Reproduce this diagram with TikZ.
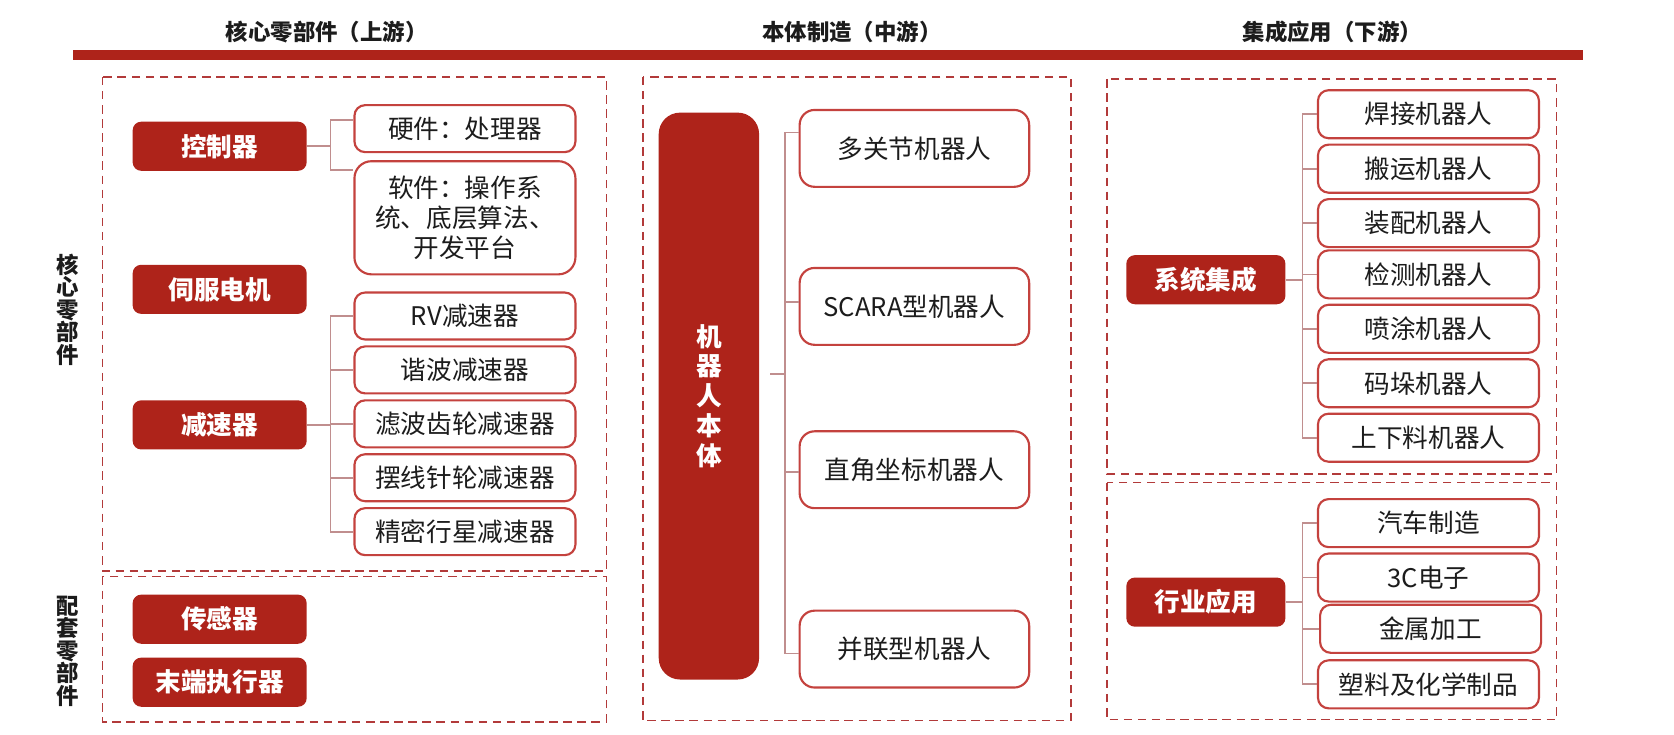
\documentclass[tikz,border=0pt]{standalone}
\usepackage{fontspec}
\setmainfont{Noto Sans CJK SC}
\usetikzlibrary{calc}
\definecolor{dred}{RGB}{174,35,26}
\definecolor{dashred}{RGB}{178,58,58}
\definecolor{boxred}{RGB}{196,66,62}
\definecolor{clcol}{RGB}{192,142,142}
\definecolor{txt}{RGB}{28,28,28}
\begin{document}
\begin{tikzpicture}[x=0.5pt,y=-0.5pt,
  redbox/.style={fill=dred, draw=none, rounded corners=4pt, text=white,
    font=\bfseries\fontsize{12}{14}\selectfont, minimum width=81.5pt,
    minimum height=23pt, inner sep=0pt},
  whitebox/.style={draw=boxred, line width=1pt, fill=white, rounded corners=5pt,
    text=txt, font=\fontsize{12}{14}\selectfont, minimum width=103.5pt,
    minimum height=22pt, inner sep=0pt, align=center},
  midbox/.style={whitebox, rounded corners=7pt, minimum width=107.5pt, minimum height=36pt},
  rbox/.style={whitebox, minimum width=103.5pt, minimum height=22.5pt},
  dbox/.style={draw=dashred, line width=0.8pt, dash pattern=on 4pt off 2.6pt},
  cl/.style={draw=clcol, line width=0.8pt},
  title/.style={font=\bfseries\fontsize{10.5}{12}\selectfont, text=txt, inner sep=0pt},
  vlabel/.style={font=\bfseries\fontsize{10.5}{10.5}\selectfont, text=txt, align=center, inner sep=0pt}
]
\useasboundingbox (0,0) rectangle (1568,688);

% titles and bar
\node[title] (t1) at (306,30) {核心零部件（上游）};
\node[title] (t2) at (798,30) {本体制造（中游）};
\node[title] (t3) at (1248,30) {集成应用（下游）};
\fill[dred] (68,46.5) rectangle (1483,56.5);

% dashed frames
\draw[dbox] (96,72) rectangle (568,535);
\draw[dbox] (96,540) rectangle (568,676);
\draw[dbox] (602,72) rectangle (1003,675);
\draw[dbox] (1037,74) rectangle (1458,444);
\draw[dbox] (1037,452) rectangle (1458,674);

% vertical labels
\node[vlabel] (vl1) at (63,290) {核\\心\\零\\部\\件};
\node[vlabel] (vl2) at (63,610) {配\\套\\零\\部\\件};

% left column
\node[redbox] (kzq) at (205.75,137) {控制器};
\node[redbox] (sfdj) at (205.75,271) {伺服电机};
\node[redbox] (jsq) at (205.75,398) {减速器};
\node[redbox] (cgq) at (205.75,580) {传感器};
\node[redbox] (mdzx) at (205.75,639) {末端执行器};

\node[whitebox] (yj) at (435.5,120.5) {硬件：处理器};
\node[whitebox, rounded corners=8pt, minimum height=53pt, font=\fontsize{12}{14}\selectfont] (rj) at (435.5,204) {软件：操作系\\统、底层算法、\\开发平台};
\node[whitebox] (rv) at (435.5,296) {RV减速器};
\node[whitebox] (xb) at (435.5,346.5) {谐波减速器};
\node[whitebox] (lb) at (435.5,397) {滤波齿轮减速器};
\node[whitebox] (bx) at (435.5,447.5) {摆线针轮减速器};
\node[whitebox] (jm) at (435.5,498) {精密行星减速器};

\coordinate (lx) at (309.5,0);
\coordinate (ka) at ($(yj.west)+(0,-8)$);
\coordinate (kb) at ($(rj.west)+(0,-45)$);
\draw[cl] (kzq.east) -- (kzq.east -| lx);
\draw[cl] (ka) -- (ka -| lx) -- (kb -| lx) -- (kb);
\draw[cl] (rv.west) -- (rv.west -| lx) -- (jm.west -| lx) -- (jm.west);
\foreach \n in {xb,lb,bx} \draw[cl] (\n.west) -- (\n.west -| lx);
\draw[cl] (jsq.east) -- (jsq.east -| lx);

% middle column
\node[fill=dred, rounded corners=10pt, minimum width=47pt, minimum height=265.5pt,
  inner sep=0pt, text=white, font=\bfseries\fontsize{12}{14}\selectfont, align=center]
  (bar) at (664,371) {机\\器\\人\\本\\体};
\node[midbox] (dgj) at (856.5,139) {多关节机器人};
\node[midbox] (scara) at (856.5,287) {SCARA型机器人};
\node[midbox] (zj) at (856.5,440) {直角坐标机器人};
\node[midbox] (bl) at (856.5,608) {并联型机器人};

\coordinate (mx) at (735,0);
\coordinate (ms) at ($(bar.east)+(10,-21)$);
\coordinate (ma) at ($(dgj.west)+(0,-15)$);
\coordinate (mb) at ($(scara.west)+(0,-4)$);
\coordinate (mc) at ($(zj.west)+(0,2)$);
\coordinate (md) at ($(bl.west)+(0,4)$);
\draw[cl] (ms) -- (ms -| mx);
\draw[cl] (ma) -- (ma -| mx) -- (md -| mx) -- (md);
\draw[cl] (mb) -- (mb -| mx);
\draw[cl] (mc) -- (mc -| mx);

% right column
\node[redbox, minimum width=74.5pt] (xtjc) at (1129.5,262) {系统集成};
\node[redbox, minimum width=74.5pt] (hyyy) at (1129.5,564) {行业应用};

\node[rbox] (r1) at (1338,107) {焊接机器人};
\node[rbox] (r2) at (1338,158) {搬运机器人};
\node[rbox] (r3) at (1338,209) {装配机器人};
\node[rbox] (r4) at (1338,257) {检测机器人};
\node[rbox] (r5) at (1338,308) {喷涂机器人};
\node[rbox] (r6) at (1338,359) {码垛机器人};
\node[rbox] (r7) at (1338,410) {上下料机器人};

\node[rbox] (s1) at (1338,490) {汽车制造};
\node[rbox] (s2) at (1338,541) {3C电子};
\node[rbox] (s3) at (1340,589) {金属加工};
\node[rbox] (s4) at (1338,641) {塑料及化学制品};

\coordinate (rx) at (1220,0);
\draw[cl] (xtjc.east) -- (xtjc.east -| rx);
\draw[cl] (r1.west) -- (r1.west -| rx) -- (r7.west -| rx) -- (r7.west);
\foreach \n in {r2,r3,r4,r5,r6} \draw[cl] (\n.west) -- (\n.west -| rx);
\draw[cl] (hyyy.east) -- (hyyy.east -| rx);
\draw[cl] (s1.west) -- (s1.west -| rx) -- (s4.west -| rx) -- (s4.west);
\foreach \n in {s2,s3} \draw[cl] (\n.west) -- (\n.west -| rx);
\end{tikzpicture}
\end{document}
